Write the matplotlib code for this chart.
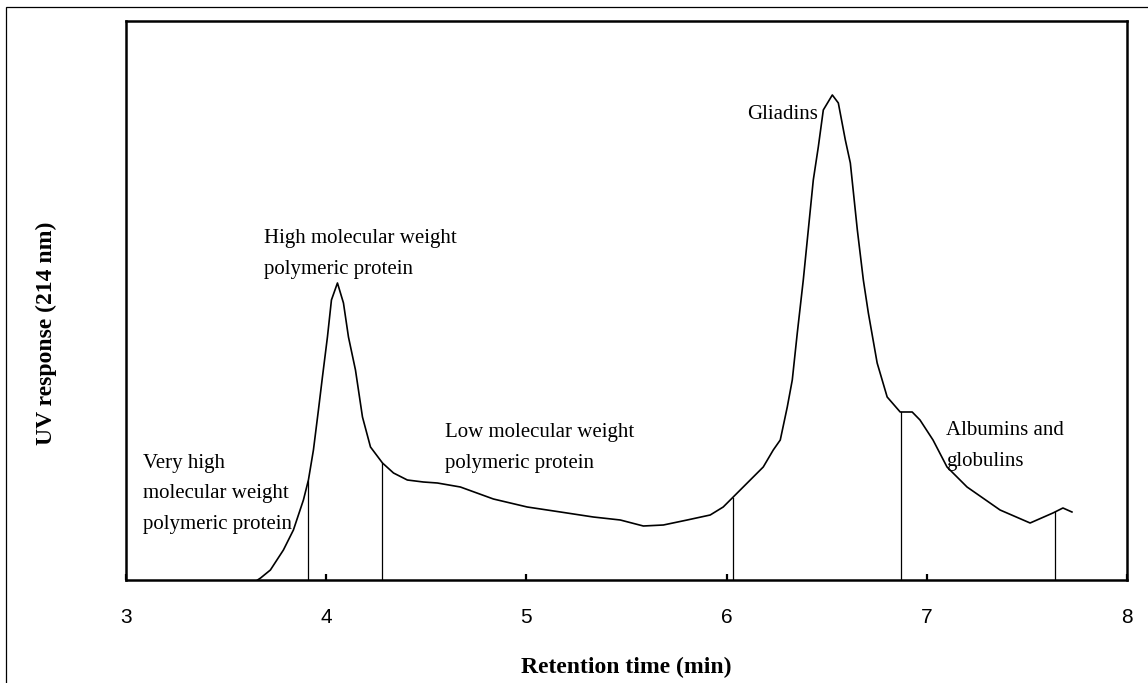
import matplotlib
matplotlib.use("Agg")
import matplotlib.pyplot as plt
import numpy as np
from matplotlib.patches import Rectangle

# SE-HPLC trace (retention time in min, UV response in arbitrary units)
time_min = [3.657, 3.672, 3.721, 3.786, 3.836, 3.886, 3.911, 3.936, 3.961, 3.981,
            4.006, 4.026, 4.056, 4.086, 4.111, 4.146, 4.181, 4.221, 4.281, 4.336,
            4.405, 4.485, 4.555, 4.670, 4.835, 5.004, 5.170, 5.334, 5.469, 5.584,
            5.684, 5.803, 5.918, 5.983, 6.033, 6.083, 6.133, 6.183, 6.233, 6.268,
            6.303, 6.328, 6.353, 6.383, 6.408, 6.433, 6.458, 6.483, 6.528, 6.558,
            6.593, 6.618, 6.653, 6.683, 6.708, 6.752, 6.802, 6.867, 6.927, 6.966,
            7.031, 7.101, 7.201, 7.366, 7.516, 7.630, 7.680, 7.725]
uv_response = [0, 2, 10, 30, 50, 80, 100, 130, 170, 203,
               243, 280, 297, 277, 243, 210, 163, 133, 117, 107,
               100, 98, 97, 93, 81, 73, 68, 63, 60, 54,
               55, 60, 65, 73, 83, 93, 103, 113, 130, 140,
               173, 200, 247, 300, 350, 400, 433, 470, 485, 477,
               440, 417, 350, 300, 267, 217, 183, 168, 168, 160,
               140, 113, 93, 70, 57, 67, 72, 68]

# fraction boundaries (drop lines)
cut_times = [3.91, 4.28, 6.03, 6.87, 7.64]

x_ticks = [3, 4, 5, 6, 7, 8]

peak_labels = [
    "Very high\nmolecular weight\npolymeric protein",
    "High molecular weight\npolymeric protein",
    "Low molecular weight\npolymeric protein",
    "Gliadins",
    "Albumins and\nglobulins",
]
label_pos = [(3.087, 86), (3.687, 326), (4.594, 132), (6.102, 465), (7.097, 134)]

serif = ["Liberation Serif", "DejaVu Serif"]
sans = ["Liberation Sans", "DejaVu Sans"]

fig = plt.figure(figsize=(11.48, 6.83), dpi=100)
ax = fig.add_axes([0.1098, 0.1508, 0.8719, 0.8185])

ax.plot(time_min, uv_response, color="black", lw=1.2)
for t in cut_times:
    h = np.interp(t, time_min, uv_response)
    ax.plot([t, t], [0, h], color="black", lw=0.9)

for text, (x, y) in zip(peak_labels, label_pos):
    ax.text(x, y, text, ha="left", va="center", family=serif, fontsize=15,
            linespacing=1.8)

ax.set_xlim(3, 8)
ax.set_ylim(0, 559)
ax.set_xticks(x_ticks)
ax.set_xticklabels([str(v) for v in x_ticks], family=sans, fontsize=15)
ax.set_yticks([])
ax.tick_params(axis="x", direction="in", length=4, width=1.6, pad=20)
for sp in ax.spines.values():
    sp.set_linewidth(1.8)

ax.set_xlabel("Retention time (min)", family=serif, fontsize=17,
              fontweight="bold", labelpad=22)
fig.text(0.040, 0.512, "UV response (214 nm)", rotation=90, ha="center",
         va="center", family=serif, fontsize=17, fontweight="bold")

# frame around the whole figure
fig.patches.append(Rectangle((6 / 1148, -0.05), 1.2, 1 - 7 / 683 + 0.05,
                             transform=fig.transFigure, fill=False,
                             edgecolor="black", lw=0.9, clip_on=False))

fig.savefig("out.png", dpi=100)
